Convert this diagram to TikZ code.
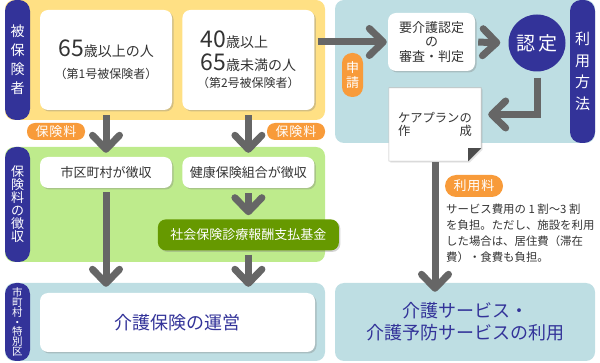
\documentclass[tikz,border=0pt]{standalone}
\usepackage{fontspec}
\setmainfont{Noto Sans CJK JP}
\usepackage{xcolor}
\usepackage{tikz}
\usetikzlibrary{arrows.meta,positioning,shadows}

\definecolor{insyellow}{HTML}{FFE084}
\definecolor{feegreen}{HTML}{BEEB8C}
\definecolor{useblue}{HTML}{BEDEE3}
\definecolor{tabpurple}{HTML}{333399}
\definecolor{tagorange}{HTML}{F89B3A}
\definecolor{fundgreen}{HTML}{669900}
\definecolor{arrowgray}{HTML}{666666}
\definecolor{textgray}{HTML}{333333}
\newcommand{\fsz}[2]{\fontsize{#1}{#2}\selectfont}

\begin{document}
\begin{tikzpicture}[
    x=1pt, y=-1pt,
    font=\fsz{13}{15},
    panel/.style={rectangle, rounded corners=9pt, inner sep=0pt},
    tab/.style={rectangle, rounded corners=11pt, fill=tabpurple, text=white, align=center,
      minimum width=25pt, inner sep=0pt},
    box/.style={rectangle, rounded corners=8pt, fill=white, align=center, text=textgray,
      inner sep=2pt, drop shadow={shadow xshift=1.5pt, shadow yshift=-1.5pt, opacity=0.35}},
    tag/.style={rectangle, rounded corners=8pt, fill=tagorange, text=white, inner sep=0pt},
    arr/.style={draw=arrowgray, line width=7pt, -{Straight Barb[length=14pt, width=27pt, round]}},
    big/.style={font=\fsz{18}{22}, text=tabpurple}
  ]
    \useasboundingbox (0,0) rectangle (600,363);
    \node[panel, fill=insyellow, minimum width=320pt, minimum height=120pt] (ins) at (165,60) {};
    \node[panel, fill=feegreen, minimum width=320pt, minimum height=115pt] (fee) at (165,204.5) {};
    \node[panel, fill=useblue, minimum width=320pt, minimum height=78pt] (opp) at (165,322) {};
    \node[panel, fill=useblue, minimum width=260pt, minimum height=143pt] (svc) at (465,71.5) {};
    \node[panel, fill=useblue, big, align=center, minimum width=260pt, minimum height=78pt] (usep) at (465,322)
      {介護サービス・\\介護予防サービスの利用};
    \node[tab, minimum height=120pt, font=\fsz{14}{19}] (t1) at (17.5,60) {被\\保\\険\\者};
    \node[tab, minimum height=115pt, font=\fsz{13}{13}] (t2) at (17.5,204.5) {保\\険\\料\\の\\徴\\収};
    \node[tab, minimum height=78pt, font=\fsz{10.5}{9.8}] (t3) at (17.5,322) {市\\町\\村\\・\\特\\別\\区};
    \node[tab, minimum height=143pt, font=\fsz{15}{21.5}] (t4) at (582.5,71.5) {利\\用\\方\\法};
    \node[box, minimum width=132pt, minimum height=100pt, font=\fsz{14}{22}] (old) at (106,60)
      {{\fsz{23}{22}65}歳以上の人\\{\fsz{12}{14}（第1号被保険者）}};
    \node[box, minimum width=132pt, minimum height=100pt, right=10pt of old, font=\fsz{14}{20}] (mid)
      {\begin{tabular}{@{}l@{}}{\fsz{23}{20}40}歳以上\\{\fsz{23}{20}65}歳未満の人\end{tabular}\\{\fsz{12}{15}（第2号被保険者）}};
    \node[box, minimum width=132pt, minimum height=31pt] (city) at (106,172.5) {市区町村が徴収};
    \node[box, minimum width=132pt, minimum height=31pt, right=10pt of city] (union) {健康保険組合が徴収};
    \node[box, fill=fundgreen, text=white, minimum width=181pt, minimum height=31pt, below=31pt of union] (fund)
      {社会保険診療報酬支払基金};
    \node[box, big, minimum width=275pt, minimum height=59pt] (run) at (177.5,322.5) {介護保険の運営};
    \node[tag, minimum width=58pt, minimum height=17pt, font=\fsz{13}{13}] (pay1) at (56,131.5) {保\kern1pt 険\kern1pt 料};
    \node[tag, minimum width=58pt, minimum height=17pt, font=\fsz{13}{13}] (pay2) at (296,131.5) {保\kern1pt 険\kern1pt 料};
    \node[box, minimum width=87pt, minimum height=58pt, font=\fsz{13}{14.5}] (judge) at (431.5,42)
      {要介護認定\\の\\審査・判定};
    \node[circle, fill=tabpurple, text=white, minimum size=57pt, inner sep=0pt, font=\fsz{19}{19}] (cert)
      at (537,43) {認\hspace{4pt}定};
    \node[tag, minimum width=21pt, minimum height=44pt, align=center, rounded corners=10pt, font=\fsz{13}{15}]
      (apply) at (352.5,75) {申\\請};
    \node[rectangle, minimum width=92pt, minimum height=73pt, inner sep=0pt] (plan) at (435,124.5) {};
    \filldraw[fill=white, draw=black!25, line width=0.6pt,
      drop shadow={shadow xshift=1.5pt, shadow yshift=-1.5pt, opacity=0.2}]
      (plan.north west) -- (plan.north east) -- ([yshift=13pt]plan.south east)
      -- ([xshift=-13pt]plan.south east) -- (plan.south west) -- cycle;
    \fill[black!70] ([xshift=-13pt, yshift=13pt]plan.south east) -- ([yshift=13pt]plan.south east)
      -- ([xshift=-13pt]plan.south east) -- cycle;
    \node[text width=74pt, align=left, inner sep=0pt, text=textgray, font=\fsz{12.3}{13}] (plantxt) at (plan)
      {ケアプランの\\作\hfill 成};
    \node[tag, minimum width=58pt, minimum height=22pt, rounded corners=11pt, font=\fsz{13}{13}] (rate)
      at (474,186) {利\kern1pt 用\kern1pt 料};
    \node[anchor=north west, inner sep=0pt, align=left, text=textgray, font=\fsz{11.4}{16}] (ratenote)
      at (446,204) {サービス費用の 1 割～3 割\\を負担。ただし、施設を利用\\した場合は、居住費（滞在\\費）・食費も負担。};
    \draw[arr, shorten <=5pt, shorten >=4pt] (old.south) -- (city.north);
    \draw[arr, shorten <=5pt, shorten >=4pt] (mid.south) -- (union.north);
    \draw[arr, shorten <=5pt, shorten >=4pt] (union.south) -- (fund.north);
    \draw[arr, shorten <=4pt, shorten >=6pt] (city.south) -- (city.south |- run.north);
    \draw[arr, shorten <=4pt, shorten >=6pt] (fund.south) -- (fund.south |- run.north);
    \draw[arr, shorten <=3pt, shorten >=1pt] (mid.east |- judge.west) -- (judge.west);
    \draw[arr, shorten <=3pt, shorten >=8pt] (judge.east) -- (cert.west);
    \draw[arr, shorten <=6pt, shorten >=7pt] (cert.south) |- ([yshift=10pt]plan.east);
    \draw[arr, shorten <=1pt, shorten >=-9pt] (plan.south) -- (plan.south |- usep.north);
  \end{tikzpicture}
\end{document}
